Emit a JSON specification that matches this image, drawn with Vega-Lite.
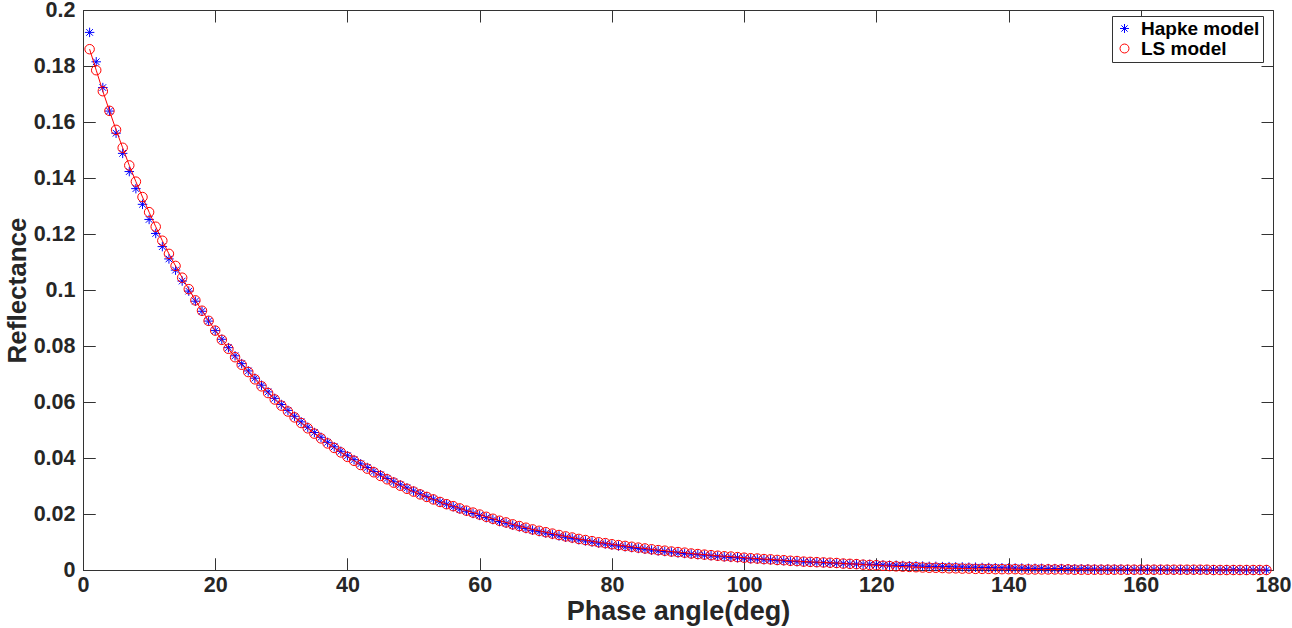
{
"$schema": "https://vega.github.io/schema/vega-lite/v6.json",
"width": 1190, "height": 560,
"autosize": {"type": "none"},
"padding": {"left": 83, "top": 10, "right": 19, "bottom": 58},
"background": "white",
"config": {
 "view": {"stroke": "#333333", "strokeWidth": 1},
 "font": "Liberation Sans",
 "axis": {"domain": false, "ticks": true, "tickColor": "#333333", "tickWidth": 1, "grid": true, "zindex": 1, "gridColor": "#333333", "gridOpacity": 1, "gridWidth": 1, "labelFlush": false, "labelOverlap": false, "labelColor": "#262626", "labelFontSize": 21.5, "labelFontWeight": "bold", "titleColor": "#262626", "titleFontWeight": "bold", "labelFont": "Liberation Sans", "titleFont": "Liberation Sans"}
},
"data": {"values": [
{"a":1,"hapke":0.1920,"ls":0.1860},{"a":2,"hapke":0.1815,"ls":0.1785},{"a":3,"hapke":0.1723,"ls":0.1710},{"a":4,"hapke":0.1639,"ls":0.1640},{"a":5,"hapke":0.1560,"ls":0.1572},
{"a":6,"hapke":0.1488,"ls":0.1508},{"a":7,"hapke":0.1423,"ls":0.1445},{"a":8,"hapke":0.1362,"ls":0.1387},{"a":9,"hapke":0.1306,"ls":0.1332},{"a":10,"hapke":0.1252,"ls":0.1278},
{"a":11,"hapke":0.1202,"ls":0.1226},{"a":12,"hapke":0.1155,"ls":0.1176},{"a":13,"hapke":0.1111,"ls":0.1129},{"a":14,"hapke":0.1071,"ls":0.1086},{"a":15,"hapke":0.1032,"ls":0.1044},
{"a":16,"hapke":0.0996,"ls":0.1003},{"a":17,"hapke":0.0960,"ls":0.0963},{"a":18,"hapke":0.0924,"ls":0.0926},{"a":19,"hapke":0.0889,"ls":0.0890},{"a":20,"hapke":0.0855,"ls":0.0855},
{"a":21,"hapke":0.0824,"ls":0.0822},{"a":22,"hapke":0.0794,"ls":0.0790},{"a":23,"hapke":0.0765,"ls":0.0760},{"a":24,"hapke":0.0737,"ls":0.0733},{"a":25,"hapke":0.0711,"ls":0.0707},
{"a":26,"hapke":0.0685,"ls":0.0681},{"a":27,"hapke":0.0660,"ls":0.0656},{"a":28,"hapke":0.0636,"ls":0.0632},{"a":29,"hapke":0.0613,"ls":0.0609},{"a":30,"hapke":0.0591,"ls":0.0587},
{"a":31,"hapke":0.0570,"ls":0.0566},{"a":32,"hapke":0.0549,"ls":0.0545},{"a":33,"hapke":0.0529,"ls":0.0525},{"a":34,"hapke":0.0510,"ls":0.0506},{"a":35,"hapke":0.0491,"ls":0.0487},
{"a":36,"hapke":0.0474,"ls":0.0470},{"a":37,"hapke":0.0456,"ls":0.0452},{"a":38,"hapke":0.0440,"ls":0.0436},{"a":39,"hapke":0.0424,"ls":0.0420},{"a":40,"hapke":0.0408,"ls":0.0404},
{"a":41,"hapke":0.0394,"ls":0.0390},{"a":42,"hapke":0.0379,"ls":0.0375},{"a":43,"hapke":0.0366,"ls":0.0362},{"a":44,"hapke":0.0352,"ls":0.0349},{"a":45,"hapke":0.0340,"ls":0.0336},
{"a":46,"hapke":0.0327,"ls":0.0324},{"a":47,"hapke":0.0315,"ls":0.0312},{"a":48,"hapke":0.0304,"ls":0.0301},{"a":49,"hapke":0.0293,"ls":0.0290},{"a":50,"hapke":0.0282,"ls":0.0280},
{"a":51,"hapke":0.0272,"ls":0.0270},{"a":52,"hapke":0.0262,"ls":0.0261},{"a":53,"hapke":0.0253,"ls":0.0252},{"a":54,"hapke":0.0243,"ls":0.0243},{"a":55,"hapke":0.0235,"ls":0.0235},
{"a":56,"hapke":0.0226,"ls":0.0228},{"a":57,"hapke":0.0218,"ls":0.0220},{"a":58,"hapke":0.0210,"ls":0.0212},{"a":59,"hapke":0.0202,"ls":0.0205},{"a":60,"hapke":0.0195,"ls":0.0198},
{"a":61,"hapke":0.0187,"ls":0.0190},{"a":62,"hapke":0.0180,"ls":0.0183},{"a":63,"hapke":0.0173,"ls":0.0176},{"a":64,"hapke":0.0167,"ls":0.0170},{"a":65,"hapke":0.0160,"ls":0.0163},
{"a":66,"hapke":0.0154,"ls":0.0157},{"a":67,"hapke":0.0148,"ls":0.0151},{"a":68,"hapke":0.0142,"ls":0.0145},{"a":69,"hapke":0.0137,"ls":0.0140},{"a":70,"hapke":0.0132,"ls":0.0135},
{"a":71,"hapke":0.0127,"ls":0.0130},{"a":72,"hapke":0.0122,"ls":0.0125},{"a":73,"hapke":0.0117,"ls":0.0120},{"a":74,"hapke":0.0113,"ls":0.0116},{"a":75,"hapke":0.0108,"ls":0.0111},
{"a":76,"hapke":0.0104,"ls":0.0107},{"a":77,"hapke":0.0100,"ls":0.0103},{"a":78,"hapke":0.0096,"ls":0.0099},{"a":79,"hapke":0.0093,"ls":0.0096},{"a":80,"hapke":0.0089,"ls":0.0092},
{"a":81,"hapke":0.0086,"ls":0.0089},{"a":82,"hapke":0.0083,"ls":0.0086},{"a":83,"hapke":0.0080,"ls":0.0083},{"a":84,"hapke":0.0077,"ls":0.0080},{"a":85,"hapke":0.0074,"ls":0.0077},
{"a":86,"hapke":0.0071,"ls":0.0074},{"a":87,"hapke":0.0068,"ls":0.0071},{"a":88,"hapke":0.0066,"ls":0.0069},{"a":89,"hapke":0.0064,"ls":0.0066},{"a":90,"hapke":0.0061,"ls":0.0064},
{"a":91,"hapke":0.0059,"ls":0.0062},{"a":92,"hapke":0.0057,"ls":0.0059},{"a":93,"hapke":0.0055,"ls":0.0057},{"a":94,"hapke":0.0053,"ls":0.0055},{"a":95,"hapke":0.0051,"ls":0.0053},
{"a":96,"hapke":0.0049,"ls":0.0051},{"a":97,"hapke":0.0047,"ls":0.0049},{"a":98,"hapke":0.0045,"ls":0.0048},{"a":99,"hapke":0.0044,"ls":0.0046},{"a":100,"hapke":0.0042,"ls":0.0044},
{"a":101,"hapke":0.0040,"ls":0.0042},{"a":102,"hapke":0.0039,"ls":0.0041},{"a":103,"hapke":0.0037,"ls":0.0039},{"a":104,"hapke":0.0036,"ls":0.0038},{"a":105,"hapke":0.0034,"ls":0.0036},
{"a":106,"hapke":0.0033,"ls":0.0035},{"a":107,"hapke":0.0031,"ls":0.0033},{"a":108,"hapke":0.0030,"ls":0.0032},{"a":109,"hapke":0.0029,"ls":0.0030},{"a":110,"hapke":0.0028,"ls":0.0029},
{"a":111,"hapke":0.0027,"ls":0.0028},{"a":112,"hapke":0.0026,"ls":0.0027},{"a":113,"hapke":0.0025,"ls":0.0026},{"a":114,"hapke":0.0024,"ls":0.0025},{"a":115,"hapke":0.0023,"ls":0.0023},
{"a":116,"hapke":0.0022,"ls":0.0022},{"a":117,"hapke":0.0021,"ls":0.0021},{"a":118,"hapke":0.0020,"ls":0.0019},{"a":119,"hapke":0.0020,"ls":0.0018},{"a":120,"hapke":0.0019,"ls":0.0017},
{"a":121,"hapke":0.0018,"ls":0.0015},{"a":122,"hapke":0.0017,"ls":0.0014},{"a":123,"hapke":0.0017,"ls":0.0013},{"a":124,"hapke":0.0016,"ls":0.0012},{"a":125,"hapke":0.0015,"ls":0.0011},
{"a":126,"hapke":0.0015,"ls":0.0010},{"a":127,"hapke":0.0014,"ls":0.0009},{"a":128,"hapke":0.0013,"ls":0.0008},{"a":129,"hapke":0.0013,"ls":0.0008},{"a":130,"hapke":0.0012,"ls":0.0007},
{"a":131,"hapke":0.0012,"ls":0.0006},{"a":132,"hapke":0.0011,"ls":0.0006},{"a":133,"hapke":0.0011,"ls":0.0005},{"a":134,"hapke":0.0010,"ls":0.0005},{"a":135,"hapke":0.0010,"ls":0.0004},
{"a":136,"hapke":0.0009,"ls":0.0004},{"a":137,"hapke":0.0009,"ls":0.0004},{"a":138,"hapke":0.0008,"ls":0.0003},{"a":139,"hapke":0.0008,"ls":0.0003},{"a":140,"hapke":0.0007,"ls":0.0003},
{"a":141,"hapke":0.0007,"ls":0.0003},{"a":142,"hapke":0.0007,"ls":0.0002},{"a":143,"hapke":0.0006,"ls":0.0002},{"a":144,"hapke":0.0006,"ls":0.0002},{"a":145,"hapke":0.0006,"ls":0.0002},
{"a":146,"hapke":0.0005,"ls":0.0002},{"a":147,"hapke":0.0005,"ls":0.0002},{"a":148,"hapke":0.0005,"ls":0.0002},{"a":149,"hapke":0.0004,"ls":0.0002},{"a":150,"hapke":0.0004,"ls":0.0001},
{"a":151,"hapke":0.0004,"ls":0.0001},{"a":152,"hapke":0.0004,"ls":0.0001},{"a":153,"hapke":0.0003,"ls":0.0001},{"a":154,"hapke":0.0003,"ls":0.0001},{"a":155,"hapke":0.0003,"ls":0.0001},
{"a":156,"hapke":0.0003,"ls":0.0001},{"a":157,"hapke":0.0003,"ls":0.0001},{"a":158,"hapke":0.0002,"ls":0.0001},{"a":159,"hapke":0.0002,"ls":0.0001},{"a":160,"hapke":0.0002,"ls":0.0001},
{"a":161,"hapke":0.0002,"ls":0.0001},{"a":162,"hapke":0.0002,"ls":0.0001},{"a":163,"hapke":0.0002,"ls":0.0001},{"a":164,"hapke":0.0002,"ls":0.0001},{"a":165,"hapke":0.0001,"ls":0.0001},
{"a":166,"hapke":0.0001,"ls":0.0001},{"a":167,"hapke":0.0001,"ls":0.0001},{"a":168,"hapke":0.0001,"ls":0.0001},{"a":169,"hapke":0.0001,"ls":0.0001},{"a":170,"hapke":0.0001,"ls":0.0001},
{"a":171,"hapke":0.0001,"ls":0.0000},{"a":172,"hapke":0.0001,"ls":0.0000},{"a":173,"hapke":0.0001,"ls":0.0000},{"a":174,"hapke":0.0001,"ls":0.0000},{"a":175,"hapke":0.0000,"ls":0.0000},
{"a":176,"hapke":0.0000,"ls":0.0000},{"a":177,"hapke":0.0000,"ls":0.0000},{"a":178,"hapke":0.0000,"ls":0.0000},{"a":179,"hapke":0.0000,"ls":0.0000}
]},
"transform": [{"fold": ["hapke", "ls"], "as": ["model", "r"]}],
"encoding": {
 "x": {"field": "a", "type": "quantitative", "scale": {"domain": [0, 180], "nice": false, "zero": false},
       "axis": {"orient": "bottom", "values": [0,20,40,60,80,100,120,140,160,180], "tickSize": -12, "gridDash": [12, 536], "labelPadding": 16, "title": "Phase angle(deg)", "titleFontSize": 27, "titlePadding": 3}},
 "y": {"field": "r", "type": "quantitative", "scale": {"domain": [0, 0.2], "nice": false},
       "axis": {"orient": "left", "values": [0,0.02,0.04,0.06,0.08,0.1,0.12,0.14,0.16,0.18,0.2], "format": ".2~f", "tickSize": -12, "gridDash": [12, 1166], "labelPadding": 20, "title": "Reflectance", "titleFontSize": 26, "titlePadding": 3}}
},
"layer": [
 {
  "mark": {"type": "point", "filled": false, "strokeWidth": 1, "size": 90, "opacity": 1},
  "encoding": {
   "color": {"field": "model", "type": "nominal", "scale": {"domain": ["hapke", "ls"], "range": ["#0000ff", "#ff0000"]},
     "legend": {"orient": "none", "legendX": 1029, "legendY": 6, "title": null, "strokeColor": "#333333", "fillColor": "white", "padding": 3, "labelFontSize": 19, "labelFontWeight": "bold", "labelColor": "#000000", "labelFont": "Liberation Sans", "symbolSize": 80, "symbolStrokeWidth": 1, "rowPadding": -1, "labelOffset": 7, "labelExpr": "datum.label == 'hapke' ? 'Hapke model' : 'LS model'"}},
   "shape": {"field": "model", "type": "nominal", "scale": {"domain": ["hapke", "ls"], "range": ["M0,-1L0,1M-1,0L1,0M-0.7,-0.7L0.7,0.7M-0.7,0.7L0.7,-0.7", "circle"]},
     "legend": {"orient": "none", "legendX": 1029, "legendY": 6, "title": null, "strokeColor": "#333333", "fillColor": "white", "padding": 3, "labelFontSize": 19, "labelFontWeight": "bold", "labelColor": "#000000", "labelFont": "Liberation Sans", "symbolSize": 80, "symbolStrokeWidth": 1, "rowPadding": -1, "labelOffset": 7, "labelExpr": "datum.label == 'hapke' ? 'Hapke model' : 'LS model'"}}
  }
 },
 {
  "transform": [{"filter": "datum.model == 'ls'"}],
  "mark": {"type": "line", "color": "#ff0000", "strokeWidth": 1},
  "encoding": {}
 }
]
}
